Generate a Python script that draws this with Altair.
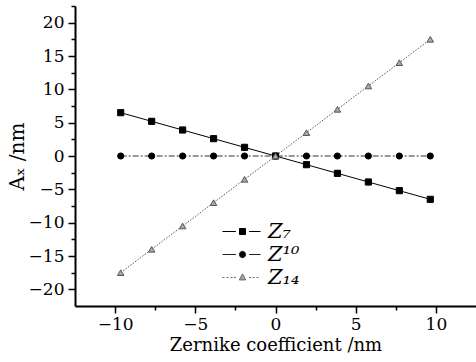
import altair as alt
import pandas as pd

# ---- data ----
coef = [-9.65, -7.72, -5.79, -3.86, -1.93, 0.0, 1.93, 3.86, 5.79, 7.72, 9.65]
z7 = [6.5, 5.2, 3.9, 2.6, 1.3, 0.0, -1.3, -2.6, -3.9, -5.2, -6.5]
z10 = [0.0, 0.0, 0.0, 0.0, 0.0, 0.0, 0.0, 0.0, 0.0, 0.0, 0.0]
z14 = [-17.5, -14.0, -10.5, -7.0, -3.5, 0.0, 3.5, 7.0, 10.5, 14.0, 17.5]
series_labels = ["Z₇", "Z¹⁰", "Z₁₄"]

x_major = [-10, -5, 0, 5, 10]
x_minor = [-7.5, -2.5, 2.5, 7.5]
y_major = [-20, -15, -10, -5, 0, 5, 10, 15, 20]
y_minor = [-17.5, -12.5, -7.5, -2.5, 2.5, 7.5, 12.5, 17.5, 22.5]

df = pd.DataFrame({
    "coef": coef * 3,
    "value": z7 + z10 + z14,
    "series": [series_labels[0]] * len(coef) + [series_labels[1]] * len(coef) + [series_labels[2]] * len(coef),
})

FONT = "DejaVu Serif"
xs = alt.Scale(domain=[-12.5, 12.5], nice=False, zero=False)
ys = alt.Scale(domain=[-22.5, 22.5], nice=False, zero=False)

common = dict(tickColor="black", tickWidth=1.5, grid=False)
major_x = alt.Axis(values=x_major, orient="bottom", title="Zernike coefficient /nm",
                   tickSize=7, domainColor="black", domainWidth=2,
                   labelFont=FONT, labelFontSize=17, labelColor="black", labelPadding=3,
                   labelFlush=False, titleFont=FONT, titleFontSize=18, titleFontWeight="normal",
                   titleColor="black", titlePadding=4, **common)
minor_x = alt.Axis(values=x_minor, orient="bottom", title=None, labels=False, domain=False,
                   tickSize=4, **common)
major_y = alt.Axis(values=y_major, orient="left", title="Aₓ /nm",
                   tickSize=7, domainColor="black", domainWidth=2,
                   labelFont=FONT, labelFontSize=17, labelColor="black", labelPadding=4,
                   labelFlush=False, titleFont=FONT, titleFontSize=20, titleFontWeight="normal",
                   titleColor="black", titlePadding=1, **common)
minor_y = alt.Axis(values=y_minor, orient="left", title=None, labels=False, domain=False,
                   tickSize=4, **common)

base = alt.Chart(df)


def sel(name):
    return base.transform_filter(alt.datum.series == name)


def enc(xa=None, ya=None):
    return dict(
        x=alt.X("coef:Q", scale=xs, axis=xa),
        y=alt.Y("value:Q", scale=ys, axis=ya),
    )


line7 = sel(series_labels[0]).mark_line(color="black", strokeWidth=1).encode(**enc(major_x, major_y))
line10 = sel(series_labels[1]).mark_line(color="#333333", strokeWidth=1, strokeDash=[6, 2, 2, 2]).encode(**enc())
line14 = sel(series_labels[2]).mark_line(color="#555555", strokeWidth=1, strokeDash=[1.5, 1.5]).encode(**enc())

pts7 = sel(series_labels[0]).mark_point(shape="square", filled=True, fill="black", stroke="black",
                                        strokeWidth=1, size=38, opacity=1).encode(**enc(minor_x, minor_y))
pts10 = sel(series_labels[1]).mark_point(shape="circle", filled=True, fill="black", stroke="black",
                                         strokeWidth=1, size=38, opacity=1).encode(**enc())
pts14 = sel(series_labels[2]).mark_point(shape="triangle-up", filled=True, fill="#aaaaaa", stroke="#555555",
                                         strokeWidth=1, size=42, opacity=1).encode(**enc())

# legend symbols: line - marker - line (paths scaled by sqrt(size)/2)
p_sq = "M-2,0L-0.66,0M0.66,0L1.8,0M-0.3,-0.3L0.3,-0.3L0.3,0.3L-0.3,0.3Z"
p_ci = "M-2,0L-0.66,0M0.66,0L1.8,0M-0.32,0A0.32,0.32,0,1,0,0.32,0A0.32,0.32,0,1,0,-0.32,0Z"
p_tr = ("M-2,0L-1.8,0M-1.6,0L-1.4,0M-1.2,0L-1.0,0M-0.85,0L-0.66,0"
        "M0.66,0L0.85,0M1.0,0L1.2,0M1.4,0L1.6,0"
        "M0,-0.36L0.32,0.24L-0.32,0.24Z")

leg = alt.Legend(orient="none", legendX=157, legendY=215, title=None, padding=0,
                 symbolSize=400, symbolStrokeWidth=1, labelOffset=15, rowPadding=1,
                 labelFont=FONT, labelFontSize=21, labelFontStyle="italic", labelColor="black",
                 labelBaseline="middle")

legend_layer = base.transform_filter(alt.datum.coef > 1000).mark_point(
    filled=True, size=400, strokeWidth=1, opacity=1
).encode(
    x=alt.X("coef:Q", scale=xs, axis=None),
    y=alt.Y("value:Q", scale=ys, axis=None),
    shape=alt.Shape("series:N", scale=alt.Scale(domain=series_labels, range=[p_sq, p_ci, p_tr]), legend=leg),
    fill=alt.Fill("series:N", scale=alt.Scale(domain=series_labels, range=["black", "black", "#aaaaaa"]), legend=leg),
    stroke=alt.Stroke("series:N", scale=alt.Scale(domain=series_labels, range=["black", "#222222", "#666666"]), legend=leg),
)

chart = alt.layer(line7, pts7, line10, line14, pts10, pts14, legend_layer).resolve_axis(
    x="independent", y="independent"
).properties(
    width=401, height=300,
    padding={"left": 75, "top": 6, "right": 0, "bottom": 56},
    autosize=alt.AutoSizeParams(type="none"),
    background="white",
).configure_view(strokeWidth=0)

chart.save("out.html", embed_options={"renderer": "svg", "actions": False})
